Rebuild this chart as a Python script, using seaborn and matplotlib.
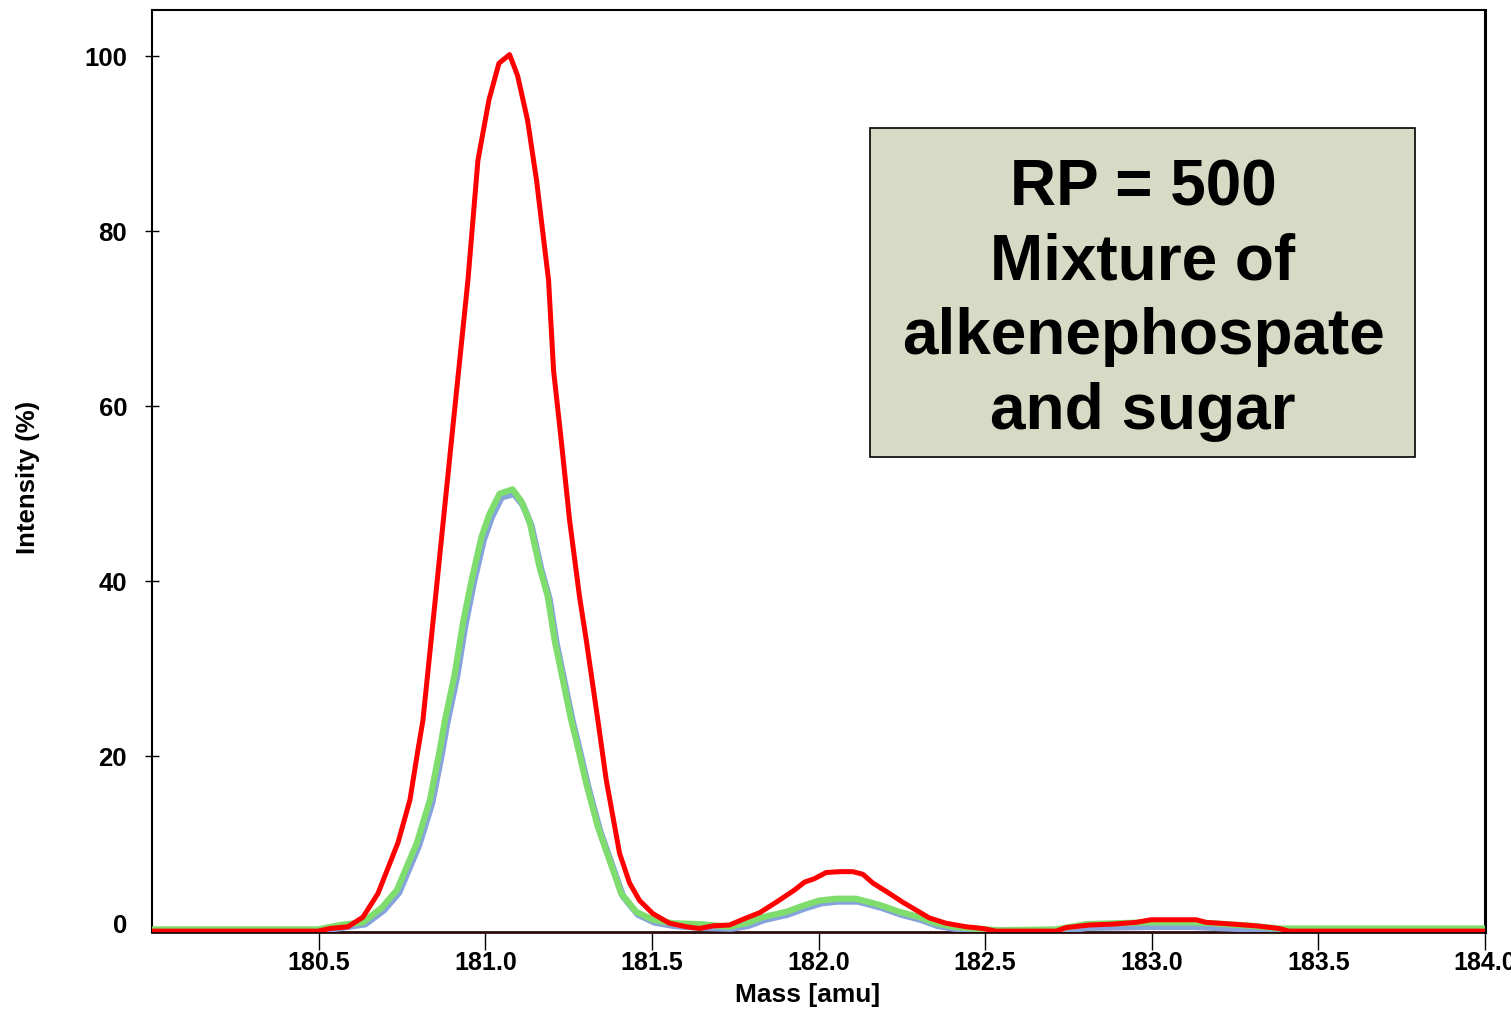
import matplotlib
matplotlib.use("Agg")
import matplotlib.pyplot as plt
import matplotlib.transforms as mtransforms
import seaborn as sns
import pandas as pd
from matplotlib.patches import Rectangle

# ---- data ----
red_mass = [180.000, 180.498, 180.534, 180.588, 180.633, 180.678, 180.738, 180.774, 180.798, 180.813,
            180.849, 180.873, 180.900, 180.924, 180.948, 180.978, 181.011, 181.041, 181.073,
            181.097, 181.127, 181.154, 181.190, 181.205, 181.228, 181.253, 181.283, 181.303, 181.338,
            181.363, 181.403, 181.433, 181.463, 181.503, 181.553, 181.603, 181.643, 181.683,
            181.733, 181.783, 181.823, 181.873, 181.928, 181.958, 181.988, 182.023, 182.063, 182.103,
            182.133, 182.163, 182.213, 182.253, 182.293, 182.333, 182.383, 182.443, 182.493, 182.533,
            182.713, 182.743, 182.813, 182.883, 182.953, 182.998, 183.133, 183.163, 183.243, 183.313,
            183.382, 183.412, 184.000]
red_int = [0.0, 0.0, 0.3, 0.5, 1.6, 4.3, 10.1, 15.0, 20.7, 24.1,
           37.5, 46.5, 56.6, 65.5, 74.4, 88.1, 95.0, 99.2, 100.2,
           97.8, 92.7, 85.8, 74.4, 64.1, 56.1, 47.0, 38.2, 33.3, 24.1,
           17.3, 8.9, 5.5, 3.5, 2.0, 0.9, 0.5, 0.3, 0.6,
           0.7, 1.5, 2.1, 3.3, 4.7, 5.6, 6.0, 6.7, 6.8, 6.8,
           6.5, 5.5, 4.3, 3.3, 2.4, 1.5, 0.9, 0.5, 0.3, 0.0,
           0.0, 0.4, 0.7, 0.8, 1.0, 1.3, 1.3, 1.0, 0.8, 0.6,
           0.3, 0.0, 0.0]

green_mass = [180.000, 180.498, 180.564, 180.633, 180.690, 180.735, 180.795, 180.834, 180.864, 180.879,
              180.909, 180.933, 180.959, 180.989, 181.013, 181.043, 181.082, 181.109, 181.133, 181.163,
              181.188, 181.208, 181.233, 181.258, 181.273, 181.303, 181.338, 181.373, 181.408, 181.453,
              181.503, 181.563, 181.643, 181.733, 181.783, 181.833, 181.903, 181.953, 182.003, 182.053,
              182.113, 182.153, 182.183, 182.243, 182.303, 182.353, 182.403, 182.463, 182.543, 182.713,
              182.804, 182.984, 183.121, 183.181, 183.301, 183.382, 184.000]
green_int = [0.2, 0.2, 0.7, 1.0, 2.7, 4.7, 10.1, 15.0, 20.8, 24.1,
             29.5, 35.2, 40.1, 45.1, 47.7, 50.0, 50.5, 49.1, 46.8, 41.6,
             38.2, 33.3, 28.7, 24.1, 21.8, 16.9, 11.9, 8.1, 4.3, 2.2,
             1.3, 0.9, 0.8, 0.5, 0.9, 1.6, 2.2, 2.9, 3.5, 3.7,
             3.7, 3.3, 3.0, 2.2, 1.6, 0.9, 0.5, 0.3, 0.1, 0.2,
             0.8, 1.0, 1.0, 0.9, 0.6, 0.3, 0.3]

blue_mass = [180.000, 180.500, 180.570, 180.640, 180.696, 180.741, 180.801, 180.840, 180.870, 180.885,
             180.915, 180.939, 180.965, 180.995, 181.019, 181.049, 181.086, 181.113, 181.138, 181.168,
             181.193, 181.213, 181.238, 181.263, 181.278, 181.308, 181.343, 181.378, 181.413, 181.458,
             181.508, 181.568, 181.648, 181.738, 181.788, 181.838, 181.908, 181.958, 182.008, 182.058,
             182.118, 182.158, 182.188, 182.248, 182.308, 182.358, 182.408, 182.468, 182.548, 182.718,
             182.810, 182.990, 183.126, 183.186, 183.306, 183.390, 184.000]
blue_int = [0.0, 0.0, 0.4, 0.8, 2.4, 4.4, 9.8, 14.6, 20.4, 23.7,
            29.1, 34.8, 39.8, 44.7, 47.3, 49.6, 50.0, 48.7, 46.4, 41.3,
            37.9, 33.0, 28.4, 23.8, 21.5, 16.6, 11.6, 7.8, 4.0, 1.9,
            1.0, 0.6, 0.4, 0.3, 0.6, 1.3, 1.9, 2.6, 3.2, 3.4,
            3.4, 3.0, 2.7, 1.9, 1.3, 0.6, 0.3, 0.1, 0.0, 0.0,
            0.4, 0.5, 0.5, 0.4, 0.2, 0.0, 0.0]

x_ticks = [180.5, 181.0, 181.5, 182.0, 182.5, 183.0, 183.5, 184.0]
x_tick_labels = ["180.5", "181.0", "181.5", "182.0", "182.5", "183.0", "183.5", "184.0"]
y_ticks = [0, 20, 40, 60, 80, 100]
y_tick_labels = ["0", "20", "40", "60", "80", "100"]
box_text = "RP = 500\nMixture of\nalkenephospate\nand sugar"

# ---- style ----
sns.set_style("ticks")
narrow = ["Liberation Sans Narrow", "Liberation Sans", "DejaVu Sans"]
plt.rcParams["font.family"] = narrow
plt.rcParams["text.color"] = "black"
plt.rcParams["axes.labelcolor"] = "black"
plt.rcParams["xtick.color"] = "black"
plt.rcParams["ytick.color"] = "black"

fig = plt.figure(figsize=(15.11, 10.10), dpi=100)
ax = fig.add_axes([152 / 1511, 1 - 932 / 1010, (1485 - 152) / 1511, (932 - 10) / 1010])

df_b = pd.DataFrame({"mass": blue_mass, "intensity": blue_int})
df_g = pd.DataFrame({"mass": green_mass, "intensity": green_int})
df_r = pd.DataFrame({"mass": red_mass, "intensity": red_int})

sns.lineplot(data=df_b, x="mass", y="intensity", ax=ax, color="#86a3dc", linewidth=4.8,
             estimator=None, sort=False, zorder=3)
sns.lineplot(data=df_g, x="mass", y="intensity", ax=ax, color="#7fdd6e", linewidth=4.5,
             estimator=None, sort=False, zorder=4)
sns.lineplot(data=df_r, x="mass", y="intensity", ax=ax, color="#ff0000", linewidth=3.6,
             estimator=None, sort=False, zorder=5)

ax.set_xlim(180.0, 184.0)
ax.set_ylim(-0.1, 105.3)

ax.set_xticks(x_ticks)
ax.set_xticklabels(x_tick_labels, fontsize=18, fontweight="bold", family=narrow, color="black")
ax.set_yticks(y_ticks)
ax.set_yticklabels(y_tick_labels, fontsize=18.5, fontweight="bold", family=narrow, color="black")
ax.tick_params(axis="x", direction="out", length=13, width=1.0, pad=1, colors="black")
ax.tick_params(axis="y", direction="inout", length=10, width=1.0, pad=13, colors="black")

# the "0" label sits slightly above the baseline in the reference
zero_tick = ax.yaxis.get_major_ticks()[0]
zero_tick.label1.set_transform(zero_tick.label1.get_transform()
                               + mtransforms.ScaledTranslation(0, 8 / 100, fig.dpi_scale_trans))
zero_tick.tick1line.set_visible(False)

ax.set_xlabel("Mass [amu]", fontsize=19, fontweight="bold", family=narrow, color="black")
ax.xaxis.set_label_coords((808 - 152) / 1333, (932 - 983) / 922)
ax.set_ylabel("Intensity (%)", fontsize=18.5, fontweight="bold", family=narrow, color="black")
ax.yaxis.set_label_coords((40 - 152) / 1333, (932 - 477) / 922)

for side in ["top", "left"]:
    ax.spines[side].set_visible(True)
    ax.spines[side].set_color("black")
    ax.spines[side].set_linewidth(1.5)
ax.spines["right"].set_visible(True)
ax.spines["right"].set_color("black")
ax.spines["right"].set_linewidth(2.2)
ax.spines["bottom"].set_color("#2a0a0a")
ax.spines["bottom"].set_linewidth(2.0)
ax.spines["bottom"].set_zorder(2)

# annotation box
rect = Rectangle((870 / 1511, 1 - 457 / 1010), 545 / 1511, 329 / 1010,
                 transform=fig.transFigure, facecolor="#d7dac4", edgecolor="black",
                 linewidth=1.2, zorder=10)
fig.patches.append(rect)
fig.text(1143 / 1511, 1 - 300 / 1010, box_text, ha="center", va="center",
         fontsize=46, fontweight="bold", family=["Liberation Sans", "DejaVu Sans"],
         color="black", linespacing=1.31, zorder=11)

fig.savefig("out.png", dpi=100)
